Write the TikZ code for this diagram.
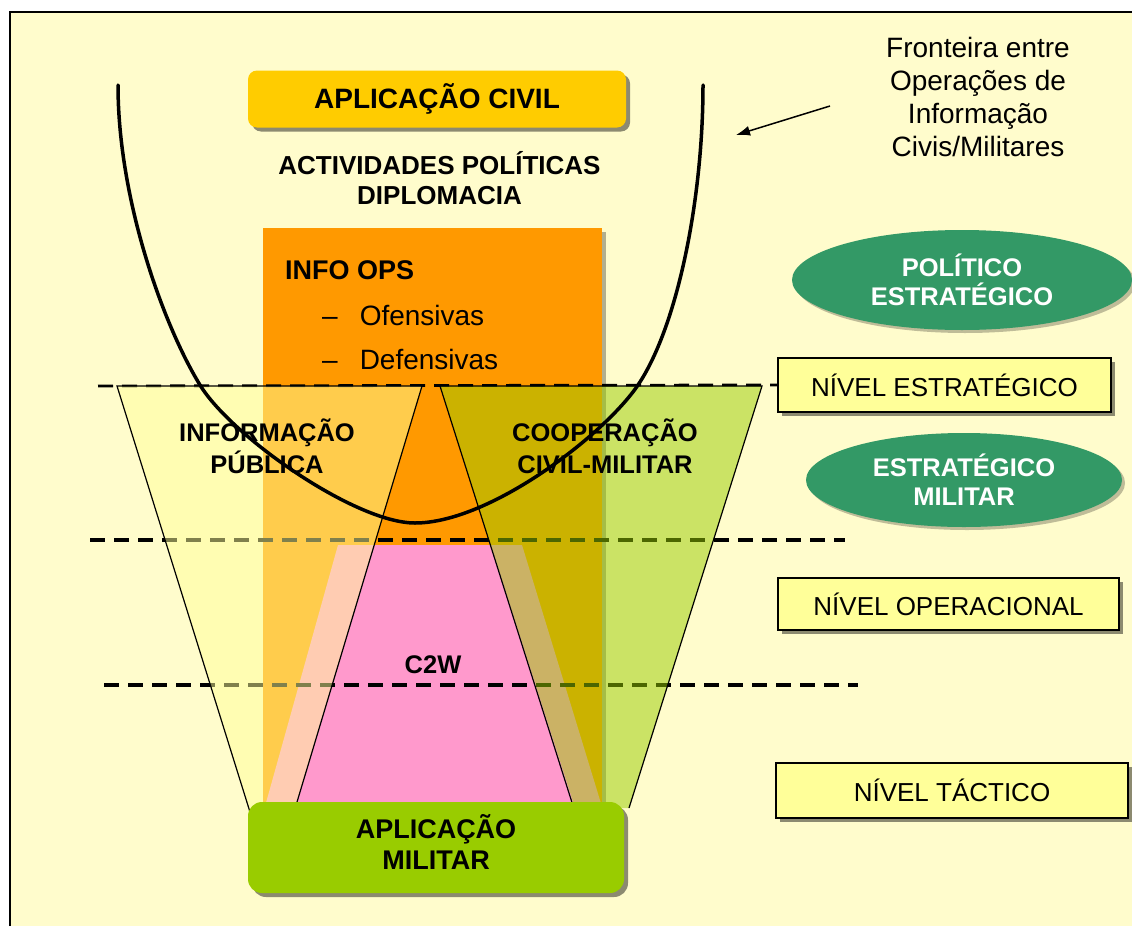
\documentclass[tikz,border=0pt]{standalone}
\usepackage{fontspec}
\setmainfont{Liberation Sans}
\usetikzlibrary{shapes.geometric,arrows.meta,shadows}
\definecolor{bgyellow}{HTML}{FFFCCC}
\definecolor{civgold}{HTML}{FFCC00}
\definecolor{infoorange}{HTML}{FF9900}
\definecolor{ctwpink}{HTML}{FF99CC}
\definecolor{trapyellow}{HTML}{FFFF99}
\definecolor{trapgreen}{HTML}{99CC00}
\definecolor{milgreen}{HTML}{99CC00}
\definecolor{ellgreen}{HTML}{339966}
\definecolor{lvlyellow}{HTML}{FFFF99}
\begin{document}
\begin{tikzpicture}[x=1pt,y=-1pt,
  dashln/.style={line width=3.4pt,dash pattern=on 15pt off 9pt},
  edgeln/.style={line width=1.2pt},
  boxshadow/.style={drop shadow={shadow xshift=4pt,shadow yshift=-4pt,fill=black,opacity=0.45}},
  lvl/.style={rectangle,draw=black,line width=1.8pt,fill=lvlyellow,inner sep=0pt,
    font=\fontsize{26}{30}\selectfont,boxshadow},
  ell/.style={ellipse,fill=ellgreen,inner sep=0pt,text=white,align=center,
    font=\bfseries\fontsize{25.5}{29}\selectfont,
    drop shadow={shadow xshift=3pt,shadow yshift=-3pt,fill=black,opacity=0.25}},
  boldtxt/.style={font=\bfseries\fontsize{25.5}{32}\selectfont,align=center,inner sep=0pt},
  regtxt/.style={font=\fontsize{28}{32.7}\selectfont,align=center,inner sep=0pt},
  civbox/.style={rectangle,rounded corners=9pt,fill=civgold,inner sep=0pt,
    minimum width=378pt,minimum height=57pt,font=\bfseries\fontsize{28}{32}\selectfont,boxshadow},
  milbox/.style={rectangle,rounded corners=14pt,fill=milgreen,inner sep=0pt,align=center,
    minimum width=376pt,minimum height=91pt,font=\bfseries\fontsize{27}{31}\selectfont,boxshadow},
  ucurve/.style={line width=3.5pt,line cap=round}
]
\useasboundingbox (0,0) rectangle (1132,926);
\fill[white] (0,0) rectangle (1132,926);
\fill[bgyellow] (10,12) rectangle (1132,926);
\draw[line width=2pt] (10,926) -- (10,12) -- (1132,12);

% right-hand levels
\node[lvl,minimum width=333pt,minimum height=54pt] (nivE) at (944.5,385) {NÍVEL ESTRATÉGICO};
\node[lvl,minimum width=341pt,minimum height=52pt] (nivO) at (948.5,604) {NÍVEL OPERACIONAL};
\node[lvl,minimum width=352pt,minimum height=55pt] (nivT) at (952,790.5) {NÍVEL TÁCTICO};
\node[ell,minimum width=340pt,minimum height=100pt] (pol) at (962,280) {POLÍTICO\\ESTRATÉGICO};
\node[ell,minimum width=316pt,minimum height=94pt] (estm) at (964,480) {ESTRATÉGICO\\MILITAR};

% INFO OPS column
\fill[black,opacity=0.3] (265,232) rectangle (606,812);
\fill[infoorange] (263,228) rectangle (602,812);

% C2W
\fill[ctwpink] (338,545) -- (522,545) -- (603,810) -- (264,810) -- cycle;

% level lines
\coordinate (d1) at (98,386);
\coordinate (d2a) at (90,540);
\coordinate (d2b) at (845,540);
\coordinate (d3a) at (104,685);
\coordinate (d3b) at (858,685);
\draw[dashln,line width=2.8pt] (d1) -- (nivE.west);
\draw[dashln] (d2a) -- (d2b);
\draw[dashln] (d3a) -- (d3b);

% trapezoids
\fill[trapyellow,fill opacity=0.5] (117,386) -- (422,386) -- (294,812) -- (250,812) -- cycle;
\draw[edgeln] (250,812) -- (117,386) -- (422,386) -- (294,812);
\fill[trapgreen,fill opacity=0.5] (440,386) -- (762,386) -- (629,808) -- (575,808) -- cycle;
\draw[edgeln] (575,812) -- (440,386) -- (762,386) -- (629,808);

% boundary curve
\draw[ucurve] (118,85) .. controls (118,200) and (163.6,325.5) .. (200,385)
  .. controls (231,436) and (355,523) .. (415,523)
  .. controls (490,523) and (604.4,434.8) .. (638,385)
  .. controls (677.2,326.9) and (703,200) .. (703,85);

% top civil part
\node[civbox] (civ) at (437,99) {APLICAÇÃO CIVIL};
\node[font=\bfseries\fontsize{26}{30}\selectfont,align=center,inner sep=0pt] (act) at (439.5,178) {ACTIVIDADES POLÍTICAS\\DIPLOMACIA};
\node[font=\bfseries\fontsize{27}{32}\selectfont,anchor=west,inner sep=0pt] (io) at (285,270) {INFO OPS};
\node[font=\fontsize{28}{32}\selectfont,anchor=west,inner sep=0pt] (of) at (322,315) {–\hspace{22pt}Ofensivas};
\node[font=\fontsize{28}{32}\selectfont,anchor=west,inner sep=0pt] (df) at (322,359) {–\hspace{22pt}Defensivas};

\node[boldtxt] (ip) at (267,446) {INFORMAÇÃO\\PÚBLICA};
\node[boldtxt] (ccm) at (605,446) {COOPERAÇÃO\\CIVIL-MILITAR};
\node[boldtxt] (c2w) at (433,665) {C2W};

\node[milbox,text depth=12pt] (mil) at (436,847.5) {APLICAÇÃO\\MILITAR};

% boundary note
\node[regtxt] (fr) at (978,97) {Fronteira entre\\Operações de\\Informação\\Civis/Militares};
\coordinate (aS) at (830,106);
\coordinate (aE) at (736,135);
\draw[line width=1.5pt,-{Latex[length=14pt,width=10pt]}] (aS) -- (aE);
\end{tikzpicture}
\end{document}
